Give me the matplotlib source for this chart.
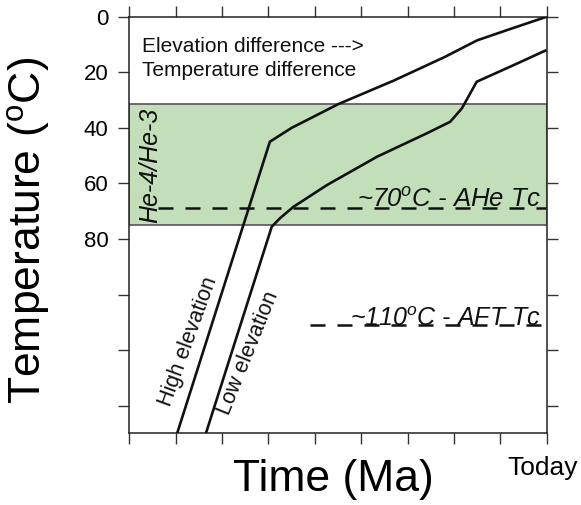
import matplotlib
matplotlib.use('Agg')
import matplotlib.pyplot as plt
from matplotlib.transforms import ScaledTranslation

plt.rcParams['font.family'] = ['Liberation Sans', 'DejaVu Sans']
plt.rcParams['mathtext.fontset'] = 'custom'
plt.rcParams['mathtext.rm'] = 'Liberation Sans'
plt.rcParams['mathtext.it'] = 'Liberation Sans:italic'

# time axis: 0 .. 9 (9 = today), temperature in degC
time_ticks = [0, 1, 2, 3, 4, 5, 6, 7, 8, 9]
time_labels = ['', '', '', '', '', '', '', '', '', 'Today']
temp_ticks = [0, 20, 40, 60, 80, 100, 120, 140]
temp_labels = ['0', '20', '40', '60', '80', '', '', '']

high_time = [1.03, 3.03, 3.5, 4.5, 5.7, 6.8, 7.5, 8.2, 9.0]
high_temp = [150, 45, 40, 31.5, 23, 14.5, 8.5, 4.5, 0]

low_time = [1.65, 3.07, 3.25, 3.54, 4.26, 5.34, 6.41, 6.92, 7.17, 7.49, 8.21, 8.97]
low_temp = [150, 75.6, 72.5, 68.4, 60.6, 50.4, 42.0, 37.8, 33.0, 23.4, 18.0, 12.2]

he_zone = [31.3, 75.0]
ahe_tc = 68.7
aft_tc = 110.8


fig = plt.figure(figsize=(5.81, 5.05), dpi=100)
ax = fig.add_axes([0.2226, 0.1416, 0.7184, 0.8253])

ax.axhspan(he_zone[0], he_zone[1], facecolor='#c3dfba', edgecolor='#555555', lw=1.2, zorder=1)

ax.plot([0.62, 9], [ahe_tc, ahe_tc], color='#111111', lw=1.8, dashes=(6, 4.8), zorder=2)
ax.plot([3.9, 9], [aft_tc, aft_tc], color='#111111', lw=1.8, dashes=(6, 4.8), zorder=2)

ax.plot(high_time, high_temp, color='#111111', lw=1.9, zorder=3)
ax.plot(low_time, low_temp, color='#111111', lw=1.9, zorder=3)

ax.text(0.27, 12.6, 'Elevation difference --->', fontsize=15, color='#111111')
ax.text(0.27, 21.2, 'Temperature difference', fontsize=15, color='#111111')
ax.text(0.45, 53.5, 'He-4/He-3', rotation=90, style='italic', fontsize=18,
        ha='center', va='center', color='#111111')
ax.text(8.87, ahe_tc - 0.4, r'~70$^{o}$C - AHe Tc', style='italic', fontsize=18.5,
        ha='right', va='baseline', color='#111111')
ax.text(8.87, aft_tc + 0.4, r'~110$^{o}$C - AFT Tc', style='italic', fontsize=18,
        ha='right', va='baseline', color='#111111')
ax.text(1.28, 117, 'High elevation', rotation=70, fontsize=15.5,
        ha='center', va='center', color='#111111')
ax.text(2.56, 121, 'Low elevation', rotation=68, fontsize=15.5,
        ha='center', va='center', color='#111111')

ax.set_xlim(0, 9)
ax.set_ylim(150, 0)
ax.set_xticks(time_ticks)
ax.set_xticklabels(time_labels, fontsize=19)
ax.set_yticks(temp_ticks)
ax.set_yticklabels(temp_labels, fontsize=16)
ax.tick_params(direction='out', length=8, width=1, color='#333333',
               top=True, right=True, pad=7)
ax.tick_params(axis='x', pad=8)
shift = ScaledTranslation(-4 / 100, 0, fig.dpi_scale_trans)
for lab in ax.get_xticklabels():
    lab.set_transform(lab.get_transform() + shift)

for s in ax.spines.values():
    s.set_linewidth(1.1)
    s.set_color('#222222')

ax.set_xlabel('Time (Ma)', fontsize=32)
ax.xaxis.set_label_coords(0.489, -0.062)
ax.set_ylabel(r'Temperature ($^{\mathrm{o}}$C)', fontsize=32)
ax.yaxis.set_label_coords(-0.185, 0.488)

fig.savefig('out.png', dpi=100)
